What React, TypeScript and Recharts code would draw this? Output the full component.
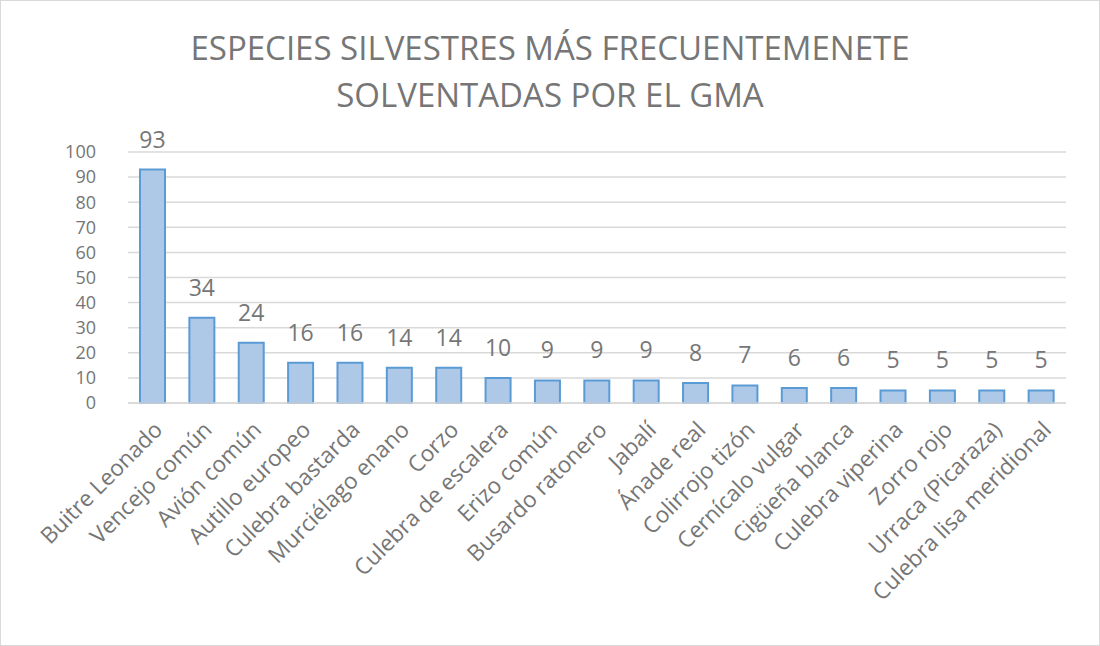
import React from 'react';
import { BarChart, Bar, XAxis, YAxis, CartesianGrid, LabelList } from 'recharts';

const species = [
  'Buitre Leonado', 'Vencejo común', 'Avión común', 'Autillo europeo', 'Culebra bastarda',
  'Murciélago enano', 'Corzo', 'Culebra de escalera', 'Erizo común', 'Busardo ratonero',
  'Jabalí', 'Ánade real', 'Colirrojo tizón', 'Cernícalo vulgar', 'Cigüeña blanca',
  'Culebra viperina', 'Zorro rojo', 'Urraca (Picaraza)', 'Culebra lisa meridional',
];
const counts = [93, 34, 24, 16, 16, 14, 14, 10, 9, 9, 9, 8, 7, 6, 6, 5, 5, 5, 5];
const yTicks = [0, 10, 20, 30, 40, 50, 60, 70, 80, 90, 100];

const data = species.map((name, i) => ({ name, value: counts[i] }));

const FONT = '"Open Sans", "Liberation Sans", sans-serif';
const GRAY = '#767676';

const SpeciesTick = (props: any) => {
  const { x, y, payload } = props;
  return (
    <g transform={`translate(${x + 7},${y + 16})`}>
      <text transform="rotate(-45)" textAnchor="end" fill={GRAY} fontSize={22.5} fontFamily={FONT} dy={6}>
        {payload.value}
      </text>
    </g>
  );
};

export default function App() {
  return (
    <div style={{ position: 'absolute', left: 0, top: 0, width: 1100, height: 646, background: '#fff', border: '1px solid #d9d9d9', boxSizing: 'border-box' }}>
      <div style={{ position: 'absolute', left: 0, right: 0, top: 23, textAlign: 'center', fontFamily: FONT, fontSize: 33, color: GRAY, lineHeight: '47px' }}>
        ESPECIES SILVESTRES MÁS FRECUENTEMENETE<br />SOLVENTADAS POR EL GMA
      </div>
      <BarChart width={1098} height={644} data={data} margin={{ top: 151, right: 33, left: 0, bottom: 2 }}>
        <CartesianGrid vertical={false} stroke="#d9d9d9" strokeWidth={1.5} />
        <XAxis dataKey="name" interval={0} height={240} tickLine={false} axisLine={{ stroke: '#d9d9d9', strokeWidth: 1.5 }} tick={<SpeciesTick />} />
        <YAxis domain={[0, 100]} ticks={yTicks} width={127} axisLine={false} tickLine={false}
          tick={{ fill: GRAY, fontSize: 18, fontFamily: FONT }} tickMargin={26} interval={0} />
        <Bar dataKey="value" fill="#aec8e8" stroke="#5b9bd5" strokeWidth={2} barSize={25} isAnimationActive={false}>
          <LabelList dataKey="value" position="top" offset={22} fill={GRAY} fontSize={23} fontFamily={FONT} />
        </Bar>
      </BarChart>
    </div>
  );
}
